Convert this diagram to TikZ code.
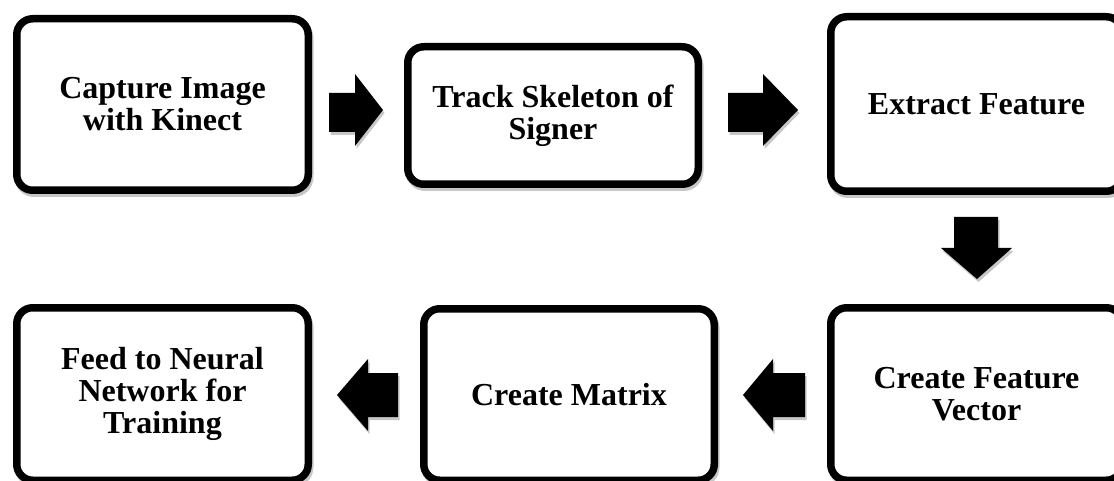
\documentclass[tikz,border=0pt]{standalone}
\usepackage{fontspec}
\setmainfont{Liberation Serif}
\begin{document}
\begin{tikzpicture}[x=1pt,y=-1pt,
  stepbox/.style={draw=black, fill=white, line width=7.5pt, rounded corners=16pt,
    align=center, inner sep=0pt,
    font=\bfseries\fontsize{32}{32}\selectfont,
    preaction={draw=black, line width=7.5pt, opacity=0.22,
      transform canvas={xshift=1.5pt,yshift=-3pt}}},
  blockarrow/.style={fill=black,
    preaction={fill=black, opacity=0.22, transform canvas={xshift=1.5pt,yshift=-3pt}}}]
\useasboundingbox (0,0) rectangle (1114,481);
\clip (0,0) rectangle (1114,481);
% boxes
\node[stepbox, minimum width=291.5pt, minimum height=171.5pt] (b1) at (162.5,104.5) {Capture Image\\with Kinect};
\node[stepbox, minimum width=290.5pt, minimum height=137.5pt] (b2) at (553,115.5) {Track Skeleton of\\Signer};
\node[stepbox, minimum width=291.5pt, minimum height=174.5pt] (b3) at (976.5,104) {Extract Feature};
\node[stepbox, minimum width=291.5pt, minimum height=172.5pt] (b4) at (976.5,394) {Create Feature\\Vector};
\node[stepbox, minimum width=290.5pt, minimum height=171.5pt] (b5) at (569,394.5) {Create Matrix};
\node[stepbox, minimum width=291.5pt, minimum height=172.5pt] (b6) at (162.5,394) {Feed to Neural\\Network for\\Training};
% block arrows
\fill[blockarrow] (329,93) -- (355,93) -- (355,74) -- (383,110) -- (355,146) -- (355,132) -- (329,132) -- cycle;
\fill[blockarrow] (728,93) -- (763,93) -- (763,74) -- (798,110) -- (763,146) -- (763,132) -- (728,132) -- cycle;
\fill[blockarrow] (954,217) -- (998,217) -- (998,248) -- (1012,248) -- (977,279) -- (941,248) -- (954,248) -- cycle;
\fill[blockarrow] (805,373) -- (773,373) -- (773,359) -- (743,395) -- (773,431) -- (773,417) -- (805,417) -- cycle;
\fill[blockarrow] (398,373) -- (368,373) -- (368,359) -- (337,395) -- (368,431) -- (368,417) -- (398,417) -- cycle;
\end{tikzpicture}
\end{document}
